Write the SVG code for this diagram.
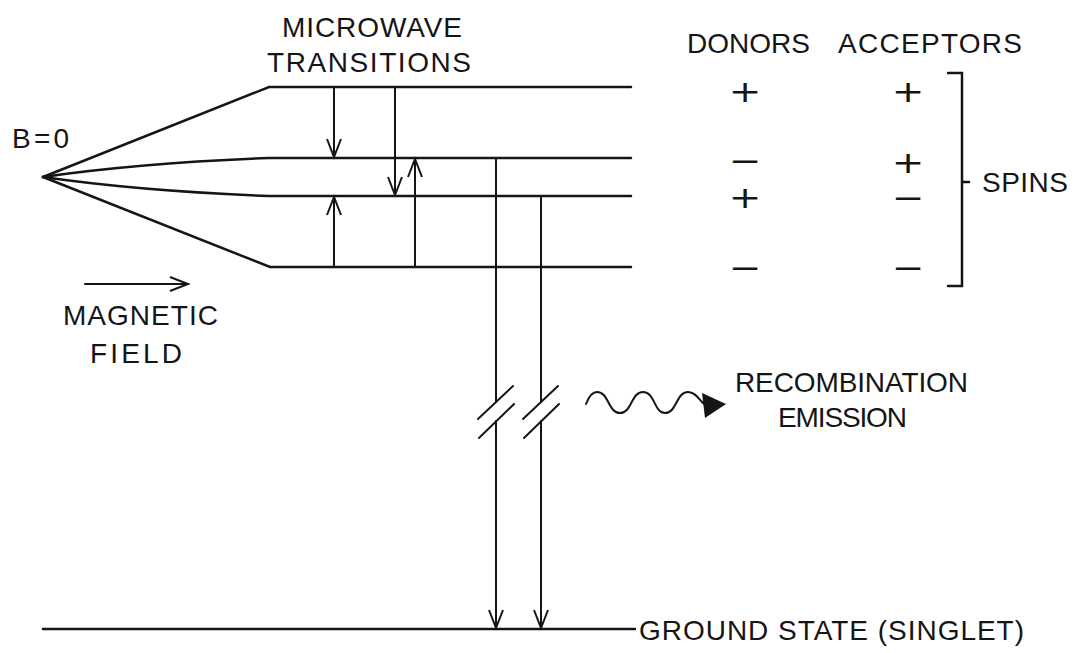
<svg xmlns="http://www.w3.org/2000/svg" width="1085" height="653" viewBox="0 0 1085 653">
  <style>
    .ln { fill: none; stroke: #151515; stroke-width: 2.5; stroke-linecap: round; }
    .thin { fill: none; stroke: #151515; stroke-width: 2; stroke-linecap: round; }
    .lbl { font-family: "Liberation Sans", Arial, sans-serif; font-size: 28px; fill: #151515; }
    .sgn { font-family: "DejaVu Sans", sans-serif; font-size: 30px; fill: #151515; text-anchor: middle; }
  </style>
  <defs>
    <marker id="openArrow" markerUnits="userSpaceOnUse" markerWidth="22" markerHeight="18" refX="18" refY="7" orient="auto" overflow="visible">
      <path d="M0,0 L18,7 L0,14" fill="none" stroke="#151515" stroke-width="2"/>
    </marker>
  </defs>
  <rect width="1085" height="653" fill="#ffffff"/>

  <g id="energy-levels">
    <path class="ln" d="M43,177 L269,87 L631,87"/>
    <path class="ln" d="M43,177 Q140,163 269,158 L631,158"/>
    <path class="ln" d="M43,177 Q140,191 269,196 L631,196"/>
    <path class="ln" d="M43,177 L270,267 L631,267"/>
  </g>

  <g id="ground-state">
    <line class="ln" x1="43" y1="629" x2="635" y2="629"/>
    <text class="lbl" x="639" y="640" textLength="385" lengthAdjust="spacing">GROUND STATE (SINGLET)</text>
  </g>

  <g id="connectors">
    <line class="thin" x1="334" y1="87" x2="334" y2="157" marker-end="url(#openArrow)"/>
    <line class="thin" x1="395" y1="87" x2="395" y2="195" marker-end="url(#openArrow)"/>
    <line class="thin" x1="415" y1="267" x2="415" y2="159" marker-end="url(#openArrow)"/>
    <line class="thin" x1="334" y1="267" x2="334" y2="197" marker-end="url(#openArrow)"/>
    <line class="thin" x1="496" y1="158" x2="496" y2="402"/>
    <line class="thin" x1="496" y1="421" x2="496" y2="628" marker-end="url(#openArrow)"/>
    <line class="thin" x1="541" y1="196" x2="541" y2="402"/>
    <line class="thin" x1="541" y1="421" x2="541" y2="628" marker-end="url(#openArrow)"/>
    <line class="thin" x1="85" y1="284" x2="188" y2="284" marker-end="url(#openArrow)"/>
  </g>

  <g id="break-marks">
    <line class="thin" x1="478" y1="419" x2="513" y2="386"/>
    <line class="thin" x1="479" y1="438" x2="514" y2="404"/>
    <line class="thin" x1="523" y1="419" x2="558" y2="386"/>
    <line class="thin" x1="524" y1="438" x2="559" y2="404"/>
  </g>

  <g id="emission">
    <path class="thin" d="M586,404 C589,396 592,392 597,392 C609,392 608,413 620,413 C632,413 631,392 643,392 C655,392 654,413 665,413 C677,413 676,392 688,392 C696,392 699,400 704,404"/>
    <polygon points="702,393 726,404 705,418" fill="#151515"/>
    <text class="lbl" x="735" y="392" textLength="233" lengthAdjust="spacing">RECOMBINATION</text>
    <text class="lbl" x="778" y="427" textLength="129" lengthAdjust="spacing">EMISSION</text>
  </g>

  <g id="title-microwave">
    <text class="lbl" x="282" y="37" textLength="180" lengthAdjust="spacing">MICROWAVE</text>
    <text class="lbl" x="267" y="72" textLength="204" lengthAdjust="spacing">TRANSITIONS</text>
  </g>

  <g id="b-zero">
    <text class="lbl" x="12" y="148" textLength="57" lengthAdjust="spacing">B=0</text>
  </g>

  <g id="magnetic-field">
    <text class="lbl" x="63" y="325" textLength="155" lengthAdjust="spacing">MAGNETIC</text>
    <text class="lbl" x="90" y="363" textLength="92" lengthAdjust="spacing">FIELD</text>
  </g>

  <g id="donors">
    <text class="lbl" x="687" y="53" textLength="123" lengthAdjust="spacing">DONORS</text>
    <text class="sgn" transform="translate(745,91) scale(1.3,1)" y="10.5">+</text>
    <text class="sgn" transform="translate(745,160) scale(1.3,1)" y="10.5">−</text>
    <text class="sgn" transform="translate(745,197) scale(1.3,1)" y="10.5">+</text>
    <text class="sgn" transform="translate(745,267) scale(1.3,1)" y="10.5">−</text>
  </g>

  <g id="acceptors">
    <text class="lbl" x="838" y="53" textLength="184" lengthAdjust="spacing">ACCEPTORS</text>
    <text class="sgn" transform="translate(908,91) scale(1.3,1)" y="10.5">+</text>
    <text class="sgn" transform="translate(908,162) scale(1.3,1)" y="10.5">+</text>
    <text class="sgn" transform="translate(908,197) scale(1.3,1)" y="10.5">−</text>
    <text class="sgn" transform="translate(908,267) scale(1.3,1)" y="10.5">−</text>
  </g>

  <g id="spins">
    <path class="ln" d="M948,73 L962,73 L962,286 L948,286 M962,182 L969,182"/>
    <text class="lbl" x="982" y="192" textLength="86" lengthAdjust="spacing">SPINS</text>
  </g>
</svg>
